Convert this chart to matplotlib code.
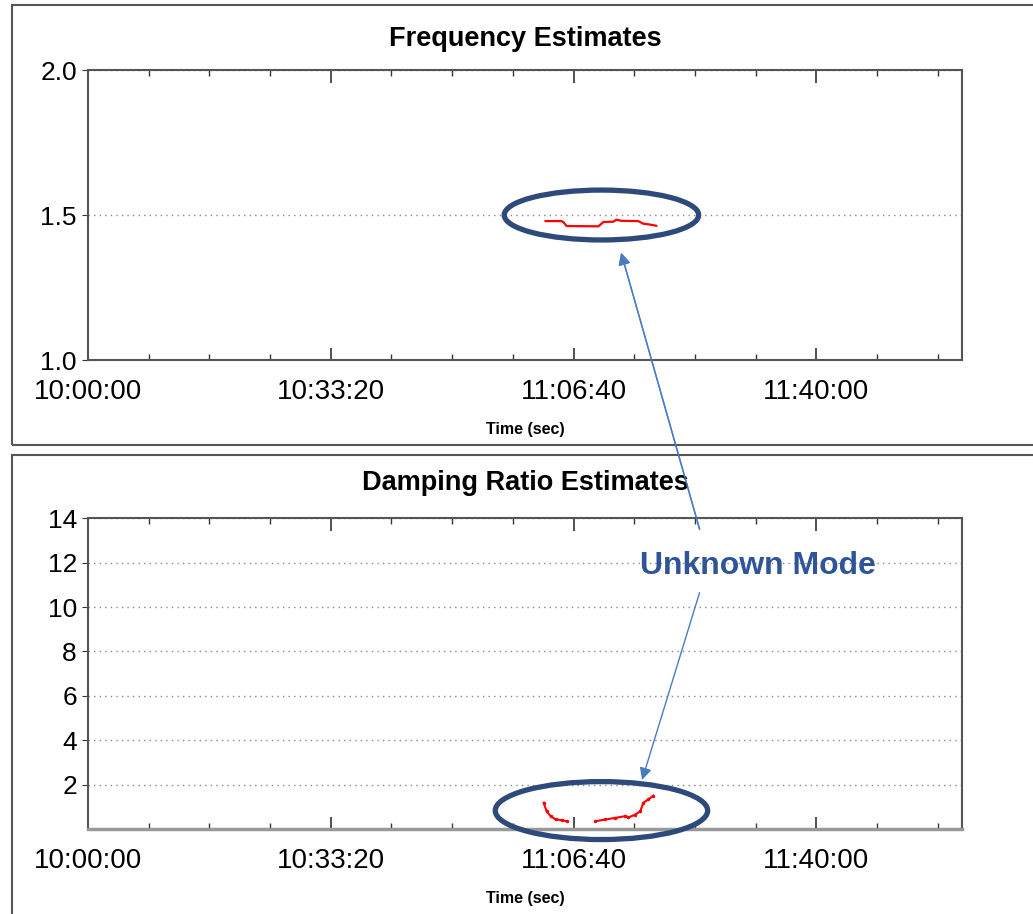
import matplotlib
matplotlib.use("Agg")
import matplotlib.pyplot as plt
from matplotlib.patches import Ellipse, Rectangle
from matplotlib.ticker import FuncFormatter, MultipleLocator

plt.rcParams['font.family'] = ['Liberation Sans', 'DejaVu Sans']

# time in seconds after 10:00:00
freq_t = [3770, 3901, 3918, 3943, 4205, 4246, 4328, 4353, 4394, 4534, 4575, 4616, 4682]
freq_v = [1.479, 1.479, 1.475, 1.462, 1.461, 1.476, 1.477, 1.484, 1.480, 1.479, 1.470, 1.468, 1.463]

damp_t1 = [3754, 3778, 3811, 3852, 3901, 3943]
damp_v1 = [1.18, 0.80, 0.58, 0.43, 0.40, 0.35]
damp_t2 = [4181, 4263, 4345, 4427, 4452, 4509, 4550, 4575, 4616, 4657]
damp_v2 = [0.35, 0.43, 0.50, 0.58, 0.52, 0.65, 0.80, 1.18, 1.33, 1.50]

x_major = [0, 2000, 4000, 6000]
start_hour = 10

NAVY = '#2E4A7A'
ARROW = '#4A7CC4'


def hms(x, pos=None):
  s = int(round(x)) + start_hour * 3600
  return "%d:%02d:%02d" % (s // 3600, (s % 3600) // 60, s % 60)


def style_axes(ax):
  ax.set_xlim(0, 7200)
  ax.set_xticks(x_major)
  ax.xaxis.set_major_formatter(FuncFormatter(hms))
  ax.xaxis.set_minor_locator(MultipleLocator(500))
  ax.tick_params(axis='x', which='both', direction='in', top=True, bottom=True,
                 labelsize=20, pad=14, color='#333')
  ax.tick_params(axis='x', which='major', length=9, width=1.2)
  ax.tick_params(axis='x', which='minor', length=4, width=1.0)
  ax.tick_params(axis='y', direction='out', length=4, labelsize=19, pad=4, color='#333')
  ax.yaxis.grid(True, linestyle=(0, (1, 3)), color='#888', lw=1)
  ax.patch.set_facecolor('none')
  for s in ax.spines.values():
    s.set_color('#555')
    s.set_linewidth(1.5)
  ax.set_xlabel("Time (sec)", fontsize=11.5, fontweight='bold', labelpad=12)


fig = plt.figure(figsize=(10.33, 9.14), dpi=100)

# panel frames
fig.patches.append(Rectangle((0.0116, 0.513), 1.0, 0.481, transform=fig.transFigure,
                             fill=False, edgecolor='#555', lw=1.5, zorder=0))
fig.patches.append(Rectangle((0.0116, -0.02), 1.0, 0.522, transform=fig.transFigure,
                             fill=False, edgecolor='#555', lw=1.5, zorder=0))

ax1 = fig.add_axes([0.0852, 0.6061, 0.846, 0.3173])
ax1.plot(freq_t, freq_v, color='red', lw=1.6)
ax1.set_ylim(1.0, 2.0)
ax1.set_yticks([1.0, 1.5, 2.0])
ax1.yaxis.set_major_formatter(FuncFormatter(lambda v, p: "%.1f" % v))
style_axes(ax1)
ax1.set_title("Frequency Estimates", fontsize=19.5, fontweight='bold', pad=17)
ax1.add_patch(Ellipse((4230, 1.5), 1602, 0.172, fill=False, edgecolor=NAVY, lw=3.8,
                      clip_on=False, zorder=5))

ax2 = fig.add_axes([0.0852, 0.093, 0.846, 0.340])
ax2.plot(damp_t1, damp_v1, color='red', lw=1.5, marker='.', ms=3)
ax2.plot(damp_t2, damp_v2, color='red', lw=1.5, marker='.', ms=3)
ax2.set_ylim(0, 14)
ax2.set_yticks([2, 4, 6, 8, 10, 12, 14])
style_axes(ax2)
ax2.spines['bottom'].set_color('#999')
ax2.spines['bottom'].set_linewidth(2.5)
ax2.set_title("Damping Ratio Estimates", fontsize=19.5, fontweight='bold', pad=20)
ax2.add_patch(Ellipse((4230, 0.83), 1750, 2.61, fill=False, edgecolor=NAVY, lw=3.8,
                      clip_on=False, zorder=5))

fig.text(0.734, 0.3805, "Unknown Mode", color='#2F5597', fontsize=23, fontweight='bold',
         ha='center', va='center')

fig.add_artist(ax1.annotate("", xy=(4386, 1.379), xycoords='data', xytext=(0.678, 0.418),
               textcoords='figure fraction', annotation_clip=False,
               arrowprops=dict(arrowstyle='-|>', color=ARROW, lw=1, mutation_scale=18)))
ax2.annotate("", xy=(4558, 2.09), xycoords='data', xytext=(0.678, 0.3545),
             textcoords='figure fraction', annotation_clip=False,
             arrowprops=dict(arrowstyle='-|>', color=ARROW, lw=1, mutation_scale=18))

fig.savefig("out.png", dpi=100)
